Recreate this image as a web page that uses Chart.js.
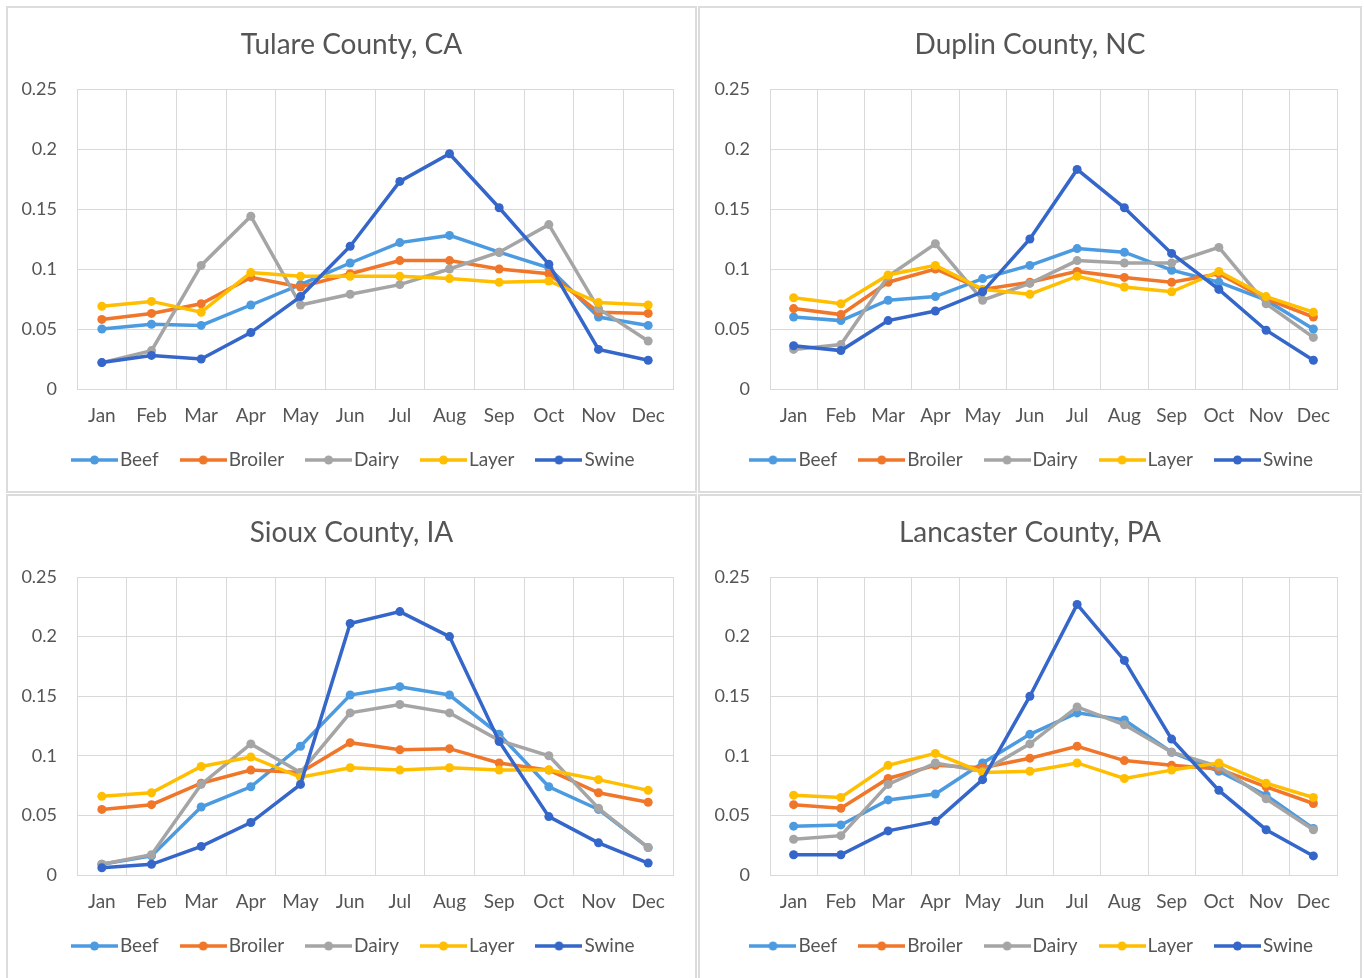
<!DOCTYPE html>
<html>
<head>
<meta charset="utf-8">
<script src="https://cdn.jsdelivr.net/npm/chart.js@4/dist/chart.umd.min.js"></script>
<style>
  html, body { margin: 0; padding: 0; background: #ffffff; }
  body { width: 1364px; height: 978px; position: relative; overflow: hidden; }
  .panel { position: absolute; box-sizing: border-box; border: 2px solid #dcdcdc; background: #fff; }
  canvas { position: absolute; }
</style>
</head>
<body>
<div class="panel" style="left:6px;top:6px;width:691px;height:487px;"></div>
<div class="panel" style="left:698px;top:6px;width:664px;height:487px;"></div>
<div class="panel" style="left:6px;top:494px;width:691px;height:490px;"></div>
<div class="panel" style="left:698px;top:494px;width:664px;height:490px;"></div>
<canvas id="c1" width="687" height="484" style="left:8px;top:8px;"></canvas>
<canvas id="c2" width="660" height="484" style="left:700px;top:8px;"></canvas>
<canvas id="c3" width="687" height="482" style="left:8px;top:496px;"></canvas>
<canvas id="c4" width="660" height="482" style="left:700px;top:496px;"></canvas>
<script>
// ---- data ----
const months = ['Jan','Feb','Mar','Apr','May','Jun','Jul','Aug','Sep','Oct','Nov','Dec'];
const seriesNames = ['Beef','Broiler','Dairy','Layer','Swine'];
const yTickLabels = ['0','0.05','0.1','0.15','0.2','0.25'];
const panelTitles = ['Tulare County, CA','Duplin County, NC','Sioux County, IA','Lancaster County, PA'];

const beefCA    = [0.050,0.054,0.053,0.070,0.087,0.105,0.122,0.128,0.114,0.101,0.060,0.053];
const broilerCA = [0.058,0.063,0.071,0.093,0.085,0.096,0.107,0.107,0.100,0.096,0.064,0.063];
const dairyCA   = [0.022,0.032,0.103,0.144,0.070,0.079,0.087,0.100,0.114,0.137,0.067,0.040];
const layerCA   = [0.069,0.073,0.064,0.097,0.094,0.094,0.094,0.092,0.089,0.090,0.072,0.070];
const swineCA   = [0.022,0.028,0.025,0.047,0.077,0.119,0.173,0.196,0.151,0.104,0.033,0.024];

const beefNC    = [0.060,0.057,0.074,0.077,0.092,0.103,0.117,0.114,0.099,0.089,0.074,0.050];
const broilerNC = [0.067,0.062,0.089,0.100,0.083,0.089,0.098,0.093,0.089,0.096,0.075,0.060];
const dairyNC   = [0.033,0.037,0.094,0.121,0.074,0.088,0.107,0.105,0.105,0.118,0.071,0.043];
const layerNC   = [0.076,0.071,0.095,0.103,0.083,0.079,0.094,0.085,0.081,0.098,0.077,0.064];
const swineNC   = [0.036,0.032,0.057,0.065,0.081,0.125,0.183,0.151,0.113,0.083,0.049,0.024];

const beefIA    = [0.009,0.016,0.057,0.074,0.108,0.151,0.158,0.151,0.118,0.074,0.055,0.023];
const broilerIA = [0.055,0.059,0.077,0.088,0.086,0.111,0.105,0.106,0.094,0.088,0.069,0.061];
const dairyIA   = [0.009,0.017,0.076,0.110,0.086,0.136,0.143,0.136,0.113,0.100,0.056,0.023];
const layerIA   = [0.066,0.069,0.091,0.099,0.082,0.090,0.088,0.090,0.088,0.088,0.080,0.071];
const swineIA   = [0.006,0.009,0.024,0.044,0.076,0.211,0.221,0.200,0.112,0.049,0.027,0.010];

const beefPA    = [0.041,0.042,0.063,0.068,0.094,0.118,0.136,0.130,0.103,0.087,0.067,0.039];
const broilerPA = [0.059,0.056,0.081,0.092,0.090,0.098,0.108,0.096,0.092,0.089,0.074,0.060];
const dairyPA   = [0.030,0.033,0.076,0.094,0.087,0.110,0.141,0.126,0.103,0.091,0.064,0.038];
const layerPA   = [0.067,0.065,0.092,0.102,0.086,0.087,0.094,0.081,0.088,0.094,0.077,0.065];
const swinePA   = [0.017,0.017,0.037,0.045,0.080,0.150,0.227,0.180,0.114,0.071,0.038,0.016];

// ---- styling ----
const seriesColors = ['#4C9BE0','#F0762A','#A5A5A5','#FFBE00','#3566C9'];
const textColor = '#555555';
const gridColor = '#d9d9d9';
const FONT = 'Lato, "Open Sans", sans-serif';

function legendImage(color) {
  const c = document.createElement('canvas');
  c.width = 47; c.height = 12;
  const g = c.getContext('2d');
  g.strokeStyle = color; g.lineWidth = 3.5;
  g.beginPath(); g.moveTo(0, 6); g.lineTo(47, 6); g.stroke();
  g.fillStyle = color;
  g.beginPath(); g.arc(23.5, 6, 4.5, 0, Math.PI * 2); g.fill();
  return c;
}
const legendImages = seriesColors.map(legendImage);

// small layout adjustment: give x tick labels room below the axis box, nudge legend right
const layoutTweak = {
  id: 'layoutTweak',
  afterLayout(chart) {
    chart.scales.x.bottom += 16;
    if (chart.legend) { chart.legend.left += 5; chart.legend.right += 5; }
  }
};

function makeChart(id, title, seriesData, yWidth, rightGap) {
  const datasets = seriesData.map((d, i) => ({
    label: seriesNames[i],
    data: d,
    borderColor: seriesColors[i],
    backgroundColor: seriesColors[i],
    pointBackgroundColor: seriesColors[i],
    pointBorderColor: seriesColors[i],
    pointBorderWidth: 0,
    pointRadius: 4.5,
    borderWidth: 3.5,
    tension: 0,
    fill: false,
    order: seriesNames.length - i
  }));
  return new Chart(document.getElementById(id), {
    type: 'line',
    data: { labels: months, datasets },
    plugins: [layoutTweak],
    options: {
      responsive: false,
      animation: false,
      maintainAspectRatio: false,
      layout: { padding: { left: 0, right: 0, top: 0, bottom: 12.5 } },
      plugins: {
        tooltip: { enabled: false },
        title: {
          display: true,
          text: title,
          color: textColor,
          font: { family: FONT, size: 28, weight: 'normal', lineHeight: 1.2 },
          padding: { top: 20.2, bottom: 27.2 }
        },
        legend: {
          position: 'bottom',
          labels: {
            usePointStyle: true,
            pointStyleWidth: 32,
            padding: 28.5,
            color: textColor,
            font: { family: FONT, size: 19 },
            generateLabels: (chart) => {
              const items = Chart.defaults.plugins.legend.labels.generateLabels(chart);
              items.sort((a, b) => a.datasetIndex - b.datasetIndex);
              items.forEach(it => { it.pointStyle = legendImages[it.datasetIndex]; });
              return items;
            }
          }
        }
      },
      scales: {
        x: {
          type: 'category',
          offset: true,
          grid: { display: true, offset: true, color: gridColor, lineWidth: 1, drawTicks: false },
          border: { display: true, color: gridColor, width: 1 },
          ticks: { color: textColor, font: { family: FONT, size: 19 }, padding: 15.5, maxRotation: 0, autoSkip: false },
          afterFit: (s) => { s.height = 33; }
        },
        y: {
          min: 0, max: 0.25,
          grid: { color: gridColor, lineWidth: 1, drawTicks: false },
          border: { display: true, color: gridColor, width: 1 },
          ticks: {
            stepSize: 0.05,
            color: textColor,
            font: { family: FONT, size: 18 },
            padding: 20,
            callback: (v, idx) => yTickLabels[idx]
          },
          afterFit: (s) => { s.width = yWidth; }
        },
        yRight: {
          position: 'right',
          display: true,
          grid: { display: false, drawTicks: false },
          border: { display: false },
          ticks: { display: false },
          afterFit: (s) => { s.width = rightGap; }
        }
      }
    }
  });
}

makeChart('c1', panelTitles[0], [beefCA, broilerCA, dairyCA, layerCA, swineCA], 69, 22);
makeChart('c2', panelTitles[1], [beefNC, broilerNC, dairyNC, layerNC, swineNC], 70, 23);
makeChart('c3', panelTitles[2], [beefIA, broilerIA, dairyIA, layerIA, swineIA], 69, 22);
makeChart('c4', panelTitles[3], [beefPA, broilerPA, dairyPA, layerPA, swinePA], 70, 23);
</script>
</body>
</html>
